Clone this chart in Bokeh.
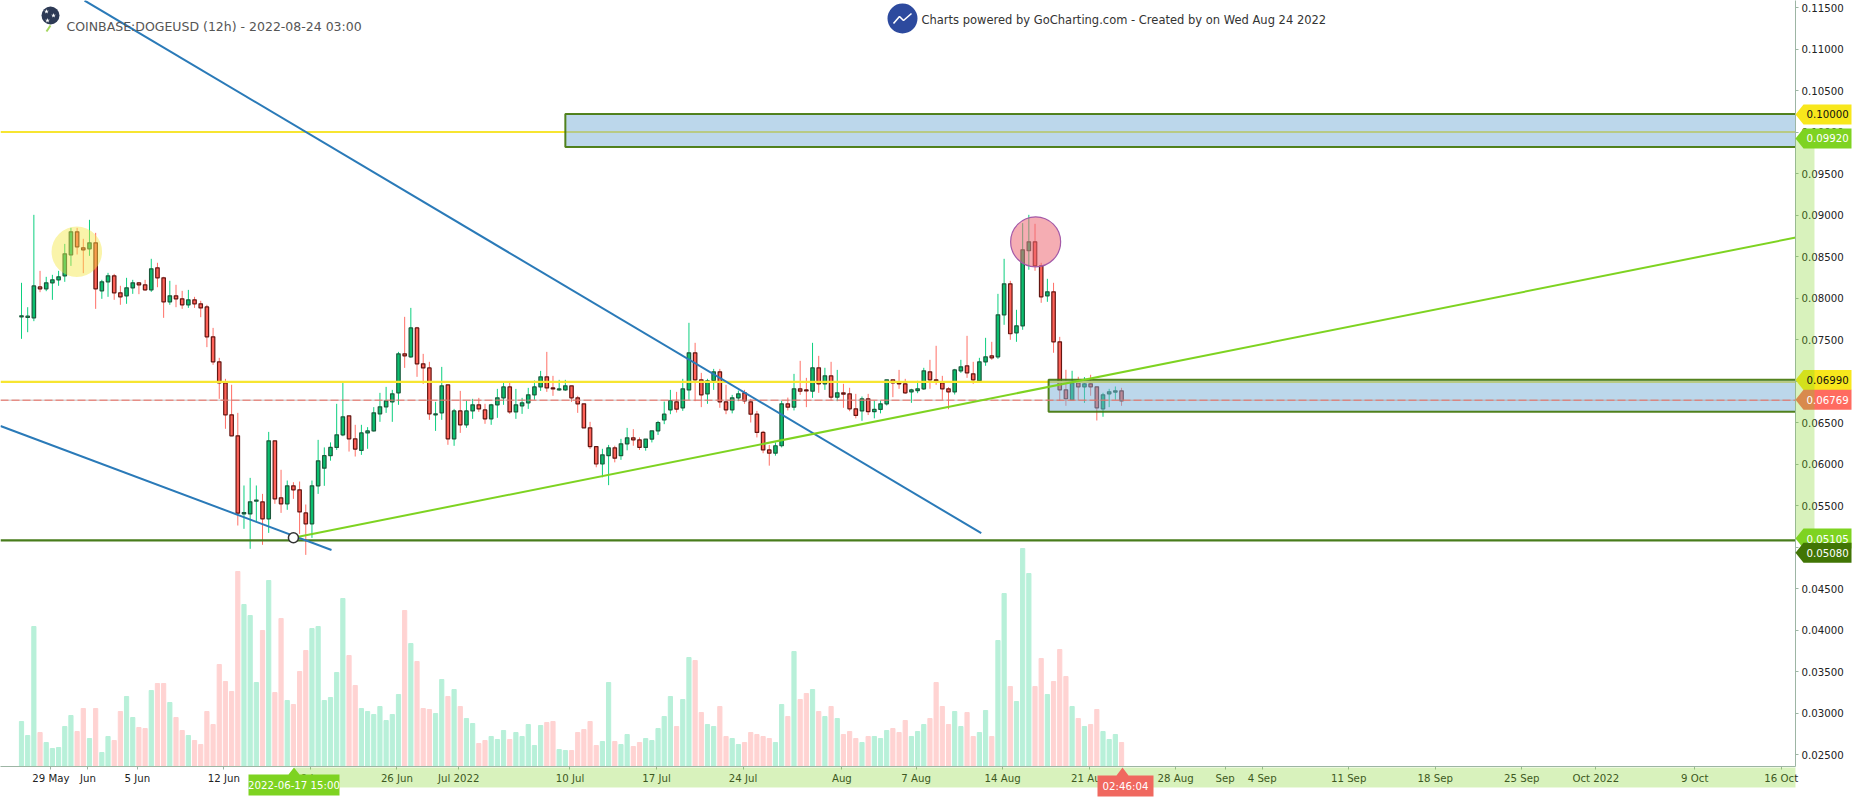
from bokeh.plotting import figure
from bokeh.embed import file_html
from bokeh.resources import INLINE
from bokeh.layouts import column
from bokeh.models import ColumnDataSource, Range1d, FixedTicker, PolyAnnotation, Label

# ---------- data (prices in 1e-5 USD) ----------
opens = [
 7773,7765,7761,8134,8110,8183,8219,8267,8520,8797,
 8604,8592,8665,8086,8195,8267,8062,8026,8122,8183,
 8159,8098,8363,8243,7954,8026,7990,7918,7978,7930,
 7893,7532,7231,6978,6592,6339,5400,5399,5552,5544,
 5339,6279,5592,5520,5737,5689,5411,5279,5737,5950,
 6100,6200,6351,6580,6303,6163,6375,6399,6604,6689,
 6749,6857,7327,7291,7640,7207,7158,6592,6616,6954,
 6303,6640,6472,6640,6713,6652,6544,6713,6797,6929,
 6628,6701,6737,6833,6929,7050,6917,6893,6893,6942,
 6797,6725,6436,6210,6000,6100,6195,6100,6243,6315,
 6291,6200,6300,6400,6530,6653,6749,6677,6893,7339,
 7014,6845,7006,7110,6749,6653,6797,6857,6749,6600,
 6380,6170,6130,6220,6725,6685,6906,6893,6877,7159,
 6966,7062,6805,6857,6845,6665,6640,6785,6630,6657,
 6725,7014,6978,6966,6869,6885,6906,7110,7014,6978,
 6906,6869,7122,7183,7087,7002,7231,7303,7291,7797,
 8171,7581,7665,8569,8677,8388,8026,8075,7472,6894,
 6773,6978,6930,6966,6930,6665,6846,6866,6882]
closes = [
 7785,7781,8146,8110,8183,8219,8255,8532,8797,8616,
 8580,8665,8110,8195,8267,8062,8014,8122,8183,8159,
 8098,8351,8243,7954,8026,7990,7918,7978,7930,7881,
 7532,7231,6978,6592,6339,5407,5415,5544,5565,5339,
 6279,5580,5520,5737,5689,5423,5279,5737,6038,6100,
 6200,6351,6568,6303,6180,6375,6399,6616,6689,6761,
 6845,7327,7303,7640,7207,7158,6604,6604,6942,6303,
 6640,6472,6640,6713,6664,6544,6713,6797,6929,6628,
 6713,6737,6833,6929,7050,6917,6905,6905,6942,6797,
 6725,6436,6210,6000,6110,6195,6070,6243,6315,6291,
 6200,6300,6400,6500,6600,6765,6660,6906,7339,7014,
 6833,7002,7110,6749,6653,6797,6845,6761,6600,6380,
 6170,6130,6220,6725,6685,6906,6877,6881,7159,6966,
 7062,6805,6857,6841,6665,6585,6785,6630,6657,6725,
 7014,6978,6966,6857,6893,6906,7122,7014,7002,6906,
 6869,7134,7171,7098,7014,7231,7291,7279,7797,8171,
 7569,7665,8581,8677,8388,8014,8075,7472,6894,6786,
 6978,6930,6966,6930,6677,6834,6870,6882,6761]
highs = [
 8183,7889,9002,8327,8255,8279,8327,8652,8845,8845,
 8713,8942,8785,8219,8303,8291,8147,8243,8219,8191,
 8219,8472,8424,8255,8207,8159,8086,8098,8014,7966,
 7918,7640,7279,7026,6954,6616,5741,5833,5741,5640,
 6387,6279,5930,5801,5781,5789,5512,5801,6291,6200,
 6260,6725,6986,6580,6472,6472,6444,6685,6857,6929,
 6893,7351,7773,7881,7652,7327,7231,6749,7170,6954,
 6664,6881,6761,6785,6797,6725,6725,6905,6978,6978,
 6905,6797,6917,7006,7122,7351,7062,7014,7014,6942,
 6821,6725,6508,6203,6183,6230,6220,6303,6435,6420,
 6320,6280,6380,6520,6753,6893,6869,7026,7701,7460,
 7098,7026,7146,7146,6954,6833,6885,6893,6785,6640,
 6400,6230,6260,6760,6800,7086,7243,7038,7460,7303,
 7159,7231,7134,6966,6918,6845,6813,6845,6765,6765,
 7014,7014,7134,7026,6906,7002,7159,7255,7424,7062,
 6926,7146,7255,7544,7231,7279,7520,7472,8050,8472,
 8207,7858,8902,9002,8894,8424,8231,8183,7532,7135,
 7123,7051,7047,7075,6930,6858,6906,6934,6918]
lows = [
 7508,7588,7721,8070,8082,7978,8147,8195,8387,8524,
 8299,8508,7869,7990,8014,7978,7918,7930,8050,8046,
 8086,8074,8130,7761,7918,7889,7869,7881,7881,7769,
 7408,7195,6785,6424,6335,5259,5219,4978,5299,5026,
 5170,5520,5411,5448,5580,5158,4905,5110,5640,5737,
 6040,6170,6335,6150,6090,6110,6183,6391,6508,6616,
 6508,6713,7158,7279,7050,6966,6532,6399,6532,6231,
 6219,6375,6436,6544,6628,6484,6472,6556,6713,6604,
 6544,6604,6664,6773,6881,6869,6821,6881,6881,6749,
 6616,6436,6180,5960,5840,5745,6020,6050,6165,6220,
 6170,6160,6260,6350,6480,6600,6620,6640,6773,6757,
 6685,6725,6893,6677,6600,6610,6757,6725,6500,6320,
 6130,5980,6100,6200,6645,6645,6833,6685,6797,6857,
 6893,6765,6757,6677,6636,6550,6520,6590,6550,6610,
 6705,6805,6906,6845,6737,6853,6893,6906,6954,6773,
 6660,6837,7098,7038,6966,6986,7183,7255,7267,7677,
 7496,7472,7617,8340,8328,7942,7954,7340,6761,6701,
 6773,6765,6737,6822,6524,6569,6685,6773,6701]
volumes = [
 45,31,140,34,24,18,19,40,51,35,
 58,28,58,14,30,26,55,70,49,39,
 38,76,83,83,64,49,36,31,26,22,
 55,42,102,85,75,195,162,151,84,136,
 186,74,148,66,62,95,116,138,140,66,
 69,94,168,111,81,58,55,52,60,46,
 52,72,156,123,105,58,57,53,87,70,
 77,60,48,43,23,26,30,27,36,27,
 34,30,42,21,41,44,45,17,16,16,
 34,37,45,21,25,84,25,22,32,20,
 24,28,26,38,50,70,40,67,109,106,
 54,42,40,60,30,28,22,24,34,32,
 30,28,24,62,50,115,67,73,77,55,
 50,60,48,32,35,28,24,30,30,28,
 36,38,34,46,30,35,42,48,84,60,
 42,55,40,54,30,34,56,30,126,173,
 80,65,218,193,80,108,72,85,117,90,
 60,48,40,42,57,35,27,32,24]

price_ticks = [0.025,0.03,0.035,0.04,0.045,0.05,0.055,0.06,0.065,0.07,0.075,0.08,0.085,0.09,0.095,0.1,0.105,0.11,0.115]
date_ticks = [4.75,10.75,18.75,32.75,46.75,60.75,70.75,88.75,102.75,116.75,132.75,144.75,158.75,172.75,
              186.75,194.75,200.75,214.75,228.75,242.75,254.75,270.75,284.75]
date_labels = ["29 May","Jun","5 Jun","12 Jun","19 Jun","26 Jun","Jul 2022","10 Jul","17 Jul","24 Jul","Aug",
               "7 Aug","14 Aug","21 Aug","28 Aug","Sep","4 Sep","11 Sep","18 Sep","25 Sep","Oct 2022","9 Oct","16 Oct"]

blue_upper_x, blue_upper_y = [10.2, 155.3], [0.11584, 0.05167]
blue_lower_x, blue_lower_y = [-3.4, 50.16], [0.06458, 0.04964]
green_trend_x, green_trend_y = [44.0, 287.1], [0.05111, 0.08729]
anchor_x, anchor_y = 44.0, 0.05111
level_yellow = [0.1000, 0.0699]
level_green = 0.0508
last_price = 0.06769
zone_left = [88.0, 166.2]
zone_top = [0.10217, 0.07014]
zone_bottom = [0.09819, 0.06629]
hi_circle = (8.95, 0.08557)
lo_circle = (164.1, 0.08677)

flag_text = ["0.10000", "0.09920", "0.06990", "0.06769", "0.05105", "0.05080"]
flag_pos = [0.10211, 0.09922, 0.07012, 0.06773, 0.05102, 0.04930]
flag_fill = ["#f8e71c", "#7ed321", "#f8e71c", "#ff6b60", "#7ed321", "#417505"]
flag_ink = ["#111111", "#ffffff", "#111111", "#ffffff", "#ffffff", "#ffffff"]

# ---------- layout: page pixels to data ----------
BAR_PX, PRICE_PX = 6.18, 8300.0
def ix(px): return (px - 21.0) / BAR_PX
def pr(py): return 0.115 - (py - 7.0) / PRICE_PX

FONT = "DejaVu Sans"
GREEN_FILL, RED_FILL = "#0abf6f", "#ff6258"
GREEN_EDGE, RED_EDGE = "#1c5a3c", "#641612"
GREEN_WICK, RED_WICK = "#0ccf7f", "#ff6f66"
GREEN_VOL, RED_VOL = "#b8f0d9", "#ffd3d2"

idx = list(range(len(opens)))
up = [c >= o_ for o_, c in zip(opens, closes)]
src = ColumnDataSource(dict(
    x=idx,
    top=[max(o_, c) / 1e5 for o_, c in zip(opens, closes)],
    bottom=[min(o_, c) / 1e5 for o_, c in zip(opens, closes)],
    high=[v / 1e5 for v in highs],
    low=[v / 1e5 for v in lows],
    vol=volumes,
    fill=[GREEN_FILL if u else RED_FILL for u in up],
    edge=[GREEN_EDGE if u else RED_EDGE for u in up],
    wick=[GREEN_WICK if u else RED_WICK for u in up],
    volc=[GREEN_VOL if u else RED_VOL for u in up],
))

p = figure(width=1856, height=800, output_backend="svg", toolbar_location=None,
           x_range=Range1d(ix(0), ix(1795)), y_range=Range1d(pr(766), pr(0)),
           y_axis_location="right", min_border_left=0, min_border_top=0,
           min_border_right=61, min_border_bottom=34, background_fill_color="white",
           border_fill_color="white", outline_line_color=None)
p.grid.visible = False
p.extra_y_ranges = {"vol": Range1d(0, 766)}

AX = "#9db5a4"
ax = p.yaxis[0]
ax.ticker = FixedTicker(ticks=price_ticks)
ax.major_label_overrides = {t: f"{t:.5f}" for t in price_ticks}
bx = p.xaxis[0]
bx.ticker = FixedTicker(ticks=date_ticks)
bx.major_label_overrides = dict(zip(date_ticks, date_labels))
for a in (ax, bx):
    a.major_label_text_font = FONT
    a.major_label_text_font_size = "10.2px"
    a.major_label_text_color = "#222222"
    a.axis_line_color = AX
    a.major_tick_line_color = AX
    a.minor_tick_line_color = None
    a.major_tick_in = 0
    a.major_tick_out = 3
    a.major_label_standoff = 3

# volume, candles
p.vbar(x="x", top="vol", bottom=0, width=0.68, fill_color="volc", line_color="volc", source=src, y_range_name="vol")
p.segment(x0="x", x1="x", y0="low", y1="high", line_color="wick", line_width=1, source=src)
p.vbar(x="x", top="top", bottom="bottom", width=0.56, fill_color="fill", line_color="edge", line_width=1.2, source=src)

# levels under the zones
x_left, x_right = ix(0), ix(1800)
for lv in level_yellow:
    p.line([x_left, x_right], [lv, lv], line_color="#f7e531", line_width=2.2)

# zones
for zl, zt, zb in zip(zone_left, zone_top, zone_bottom):
    p.quad(left=zl, right=x_right, top=zt, bottom=zb, fill_color="#79b0d8", fill_alpha=0.5,
           line_color="#417505", line_width=2, line_alpha=0.9)

p.line([x_left, x_right], [last_price, last_price], line_color="#999999", line_width=1, line_alpha=0.6)
p.line([x_left, x_right], [last_price, last_price], line_color="#ee6b60", line_width=1, line_dash="8 3")
p.line([x_left, x_right], [level_green, level_green], line_color="#487c1c", line_width=2.4)
p.line(blue_upper_x, blue_upper_y, line_color="#2a7ab8", line_width=2)
p.line(blue_lower_x, blue_lower_y, line_color="#2a7ab8", line_width=2)
p.line(green_trend_x, green_trend_y, line_color="#7ed321", line_width=2)
p.scatter([anchor_x], [anchor_y], size=10, marker="circle", fill_color="white", line_color="#333333", line_width=1.5)

p.scatter([hi_circle[0]], [hi_circle[1]], size=50.5, marker="circle", fill_color="#f5e642", fill_alpha=0.45, line_color=None)
p.scatter([lo_circle[0]], [lo_circle[1]], size=50, marker="circle", fill_color="#ec6a75", fill_alpha=0.55,
          line_color="#a45aa8", line_width=1.2)

# transparent sheet over the whole page, for the flags that sit on the axes
o = figure(width=1856, height=800, frame_width=1856, frame_height=800, output_backend="svg", toolbar_location=None,
           x_range=Range1d(ix(0), ix(1856)), y_range=Range1d(pr(800), pr(0)),
           x_axis_type=None, y_axis_type=None, min_border=0, min_border_left=0, min_border_right=0,
           min_border_top=0, min_border_bottom=0, background_fill_alpha=0,
           border_fill_alpha=0, outline_line_color=None)
o.grid.visible = False
o.margin = (-800, 0, 0, 0)

# logos
o.scatter([ix(50)], [pr(15)], size=18, marker="circle", fill_color="#2d3a55", line_color=None)
o.scatter([ix(46), ix(53), ix(47)], [pr(11), pr(15), pr(20)], size=5, marker="star", fill_color="white", line_color=None)
o.line([ix(46), ix(50)], [pr(31), pr(25)], line_color="#a4d65e", line_width=2)
o.scatter([ix(902)], [pr(18)], size=30, marker="circle", fill_color="#2d4a9e", line_color=None)
o.line([ix(893), ix(899), ix(903), ix(911)], [pr(23), pr(16), pr(20), pr(13)], line_color="white", line_width=1.6)

# text at the top
o.add_layout(Label(x=ix(66), y=pr(26), text="COINBASE:DOGEUSD (12h) - 2022-08-24 03:00", text_font=FONT,
                   text_font_size="12.5px", text_color="#555555", text_baseline="middle"))
o.add_layout(Label(x=ix(921), y=pr(19), text="Charts powered by GoCharting.com - Created by  on Wed Aug 24 2022",
                   text_font=FONT, text_font_size="11.5px", text_color="#333333", text_baseline="middle"))

def poly(xs, ys, fill, alpha=1.0):
    o.add_layout(PolyAnnotation(xs=[ix(v) for v in xs], ys=[pr(v) for v in ys], xs_units="data", ys_units="data",
                                fill_color=fill, fill_alpha=alpha, line_color=None, line_alpha=0))

# price flags on the right axis
def flag_px(price): return 7.0 + (0.115 - price) * PRICE_PX
for pos, fill in zip(flag_pos, flag_fill):
    cy = flag_px(pos)
    poly([1795, 1803, 1851, 1851, 1803], [cy, cy - 10, cy - 10, cy + 10, cy + 10], fill)

# highlighted spans on the axes
LIGHT = "#7ed321"
poly([1795, 1814, 1814, 1795], [138, 138, 538, 538], LIGHT, 0.3)
poly([294, 1795, 1795, 294], [767, 767, 787, 787], LIGHT, 0.3)

for txt, pos, ink in zip(flag_text, flag_pos, flag_ink):
    o.add_layout(Label(x=ix(1806), y=pos, text=txt, text_font=FONT, text_font_size="10.2px", text_color=ink,
                       text_baseline="middle"))

# crosshair date flag and countdown flag
poly([293.5, 299, 339, 339, 248, 248, 288], [767, 774, 774, 795, 795, 774, 774], "#7ed321")
o.add_layout(Label(x=ix(293.5), y=pr(785), text="2022-06-17 15:00", text_font=FONT, text_font_size="10.2px",
                   text_color="white", text_align="center", text_baseline="middle"))
poly([1122, 1128, 1153, 1153, 1097, 1097, 1116], [767, 775, 775, 796, 796, 775, 775], "#f0685f")
o.add_layout(Label(x=ix(1125), y=pr(786), text="02:46:04", text_font=FONT, text_font_size="10.2px",
                   text_color="white", text_align="center", text_baseline="middle"))

open("out.html", "w").write(file_html(column(p, o, spacing=0), INLINE))
